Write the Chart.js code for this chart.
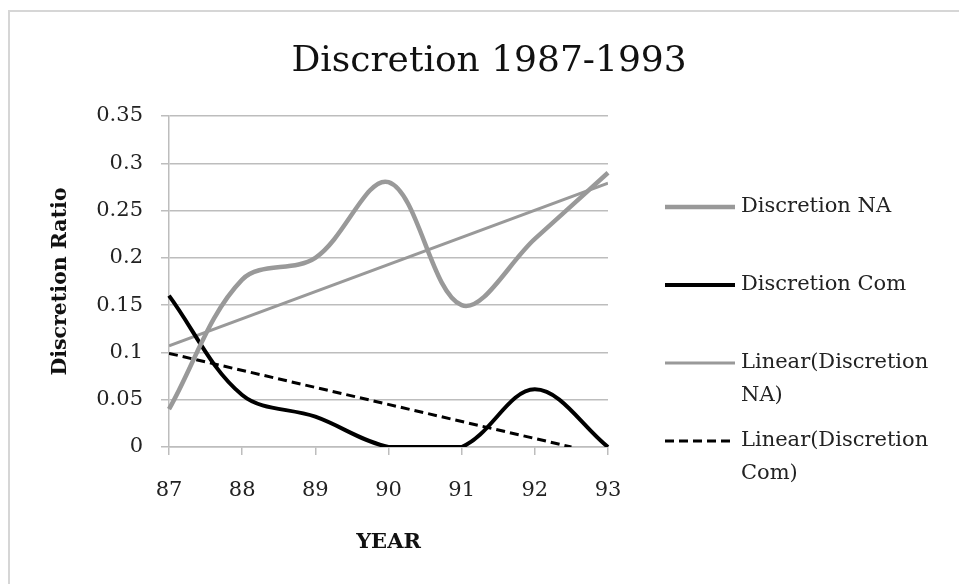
<!DOCTYPE html>
<html>
<head>
<meta charset="utf-8">
<script src="https://cdn.jsdelivr.net/npm/chart.js@4.4.1/dist/chart.umd.min.js"></script>
<style>
  html, body { margin: 0; padding: 0; background: #fff; overflow: hidden; }
  #frame { position: absolute; left: 8px; top: 10px; width: 1000px; height: 700px; border: 2px solid #d6d6d6; }
  #wrap { position: absolute; left: 0; top: 0; width: 959px; height: 584px; }
</style>
</head>
<body>
<div id="frame"></div>
<div id="wrap"><canvas id="chart"></canvas></div>
<script>
// values
const years = [87, 88, 89, 90, 91, 92, 93];
const discretionNA = [0.04, 0.177, 0.2, 0.28, 0.15, 0.22, 0.29];
const discretionCom = [0.16, 0.055, 0.032, 0, 0, 0.061, 0];
const trendNAYears = [87, 93];
const trendNA = [0.107, 0.279];
const trendComYears = [87, 92.5];
const trendCom = [0.099, 0];
const yTicks = [0, 0.05, 0.1, 0.15, 0.2, 0.25, 0.3, 0.35];
const chartTitle = 'Discretion 1987-1993';

const GRAY = '#999999';
const serif = '"DejaVu Serif", serif';

const toPoints = (xs, ys) => xs.map((x, i) => ({ x: x, y: ys[i] }));

// title centred over the whole frame, not just the plot
const frameTitle = {
  id: 'frameTitle',
  afterDraw(chart) {
    const ctx = chart.ctx;
    ctx.save();
    ctx.font = '36px ' + serif;
    ctx.fillStyle = '#111';
    ctx.textAlign = 'center';
    ctx.textBaseline = 'middle';
    ctx.fillText(chartTitle, 489, 62);
    ctx.restore();
  }
};

// draws the Excel style legend on the right, wrapping long labels
const sideLegend = {
  id: 'sideLegend',
  afterDraw(chart) {
    const ctx = chart.ctx;
    const area = chart.chartArea;
    const x0 = area.right + 57;
    const x1 = area.right + 127;
    const tx = area.right + 133;
    const maxW = 959 - tx - 8;
    const lineH = 33;
    let y = 207;
    ctx.save();
    ctx.font = '21px ' + serif;
    ctx.textBaseline = 'middle';
    ctx.fillStyle = '#222';
    chart.data.datasets.forEach(ds => {
      ctx.beginPath();
      ctx.setLineDash(ds.borderDash || []);
      ctx.lineWidth = ds.borderWidth;
      ctx.strokeStyle = ds.borderColor;
      ctx.moveTo(x0, y);
      ctx.lineTo(x1, y);
      ctx.stroke();
      ctx.setLineDash([]);
      const words = ds.label.split(' ');
      const lines = [];
      let cur = '';
      words.forEach(w => {
        const test = cur ? cur + ' ' + w : w;
        if (cur && ctx.measureText(test).width > maxW) {
          lines.push(cur);
          cur = w;
        } else {
          cur = test;
        }
      });
      lines.push(cur);
      lines.forEach((l, i) => ctx.fillText(l, tx, y + i * lineH));
      y += 78;
    });
    ctx.restore();
  }
};

new Chart(document.getElementById('chart'), {
  type: 'line',
  data: {
    datasets: [
      {
        label: 'Discretion NA',
        data: toPoints(years, discretionNA),
        borderColor: GRAY,
        borderWidth: 4.5,
        tension: 0.35,
        pointRadius: 0,
        clip: { left: 5, right: 5, top: 5, bottom: 0 }
      },
      {
        label: 'Discretion Com',
        data: toPoints(years, discretionCom),
        borderColor: '#000',
        borderWidth: 4,
        tension: 0.35,
        pointRadius: 0,
        clip: { left: 5, right: 5, top: 5, bottom: 0 }
      },
      {
        label: 'Linear(Discretion NA)',
        data: toPoints(trendNAYears, trendNA),
        borderColor: GRAY,
        borderWidth: 3,
        pointRadius: 0
      },
      {
        label: 'Linear(Discretion Com)',
        data: toPoints(trendComYears, trendCom),
        borderColor: '#000',
        borderWidth: 3,
        borderDash: [9, 5],
        pointRadius: 0
      }
    ]
  },
  options: {
    responsive: true,
    maintainAspectRatio: false,
    animation: false,
    layout: { padding: { top: 116, left: 0, right: 351, bottom: 0 } },
    plugins: {
      legend: { display: false },
      tooltip: { enabled: false },
      title: { display: false }
    },
    scales: {
      x: {
        type: 'linear',
        min: 87,
        max: 93,
        afterFit: s => { s.height = 137; },
        afterBuildTicks: s => { s.ticks = years.map(v => ({ value: v })); },
        ticks: {
          color: '#222',
          font: { family: serif, size: 21 },
          padding: 23,
          maxRotation: 0
        },
        grid: { drawOnChartArea: false, drawTicks: true, tickLength: 8, color: '#bdbdbd', lineWidth: 1.5 },
        border: { color: '#bdbdbd', width: 1.5 },
        title: {
          display: true,
          text: 'YEAR',
          color: '#111',
          font: { family: serif, size: 21, weight: 'bold' },
          padding: { top: 0, bottom: 29 }
        }
      },
      y: {
        min: 0,
        max: 0.35,
        afterFit: s => { s.width = 169; },
        afterBuildTicks: s => { s.ticks = yTicks.map(v => ({ value: v })); },
        ticks: {
          color: '#222',
          font: { family: serif, size: 21 },
          padding: 18,
          callback: v => String(+v.toFixed(2))
        },
        grid: { color: '#bdbdbd', lineWidth: 1.5, tickLength: 8 },
        border: { color: '#bdbdbd', width: 1.5 },
        title: {
          display: true,
          text: 'Discretion Ratio',
          color: '#111',
          font: { family: serif, size: 20.5, weight: 'bold' },
          padding: { top: 48, bottom: 0 }
        }
      }
    }
  },
  plugins: [sideLegend, frameTitle]
});
</script>
</body>
</html>
